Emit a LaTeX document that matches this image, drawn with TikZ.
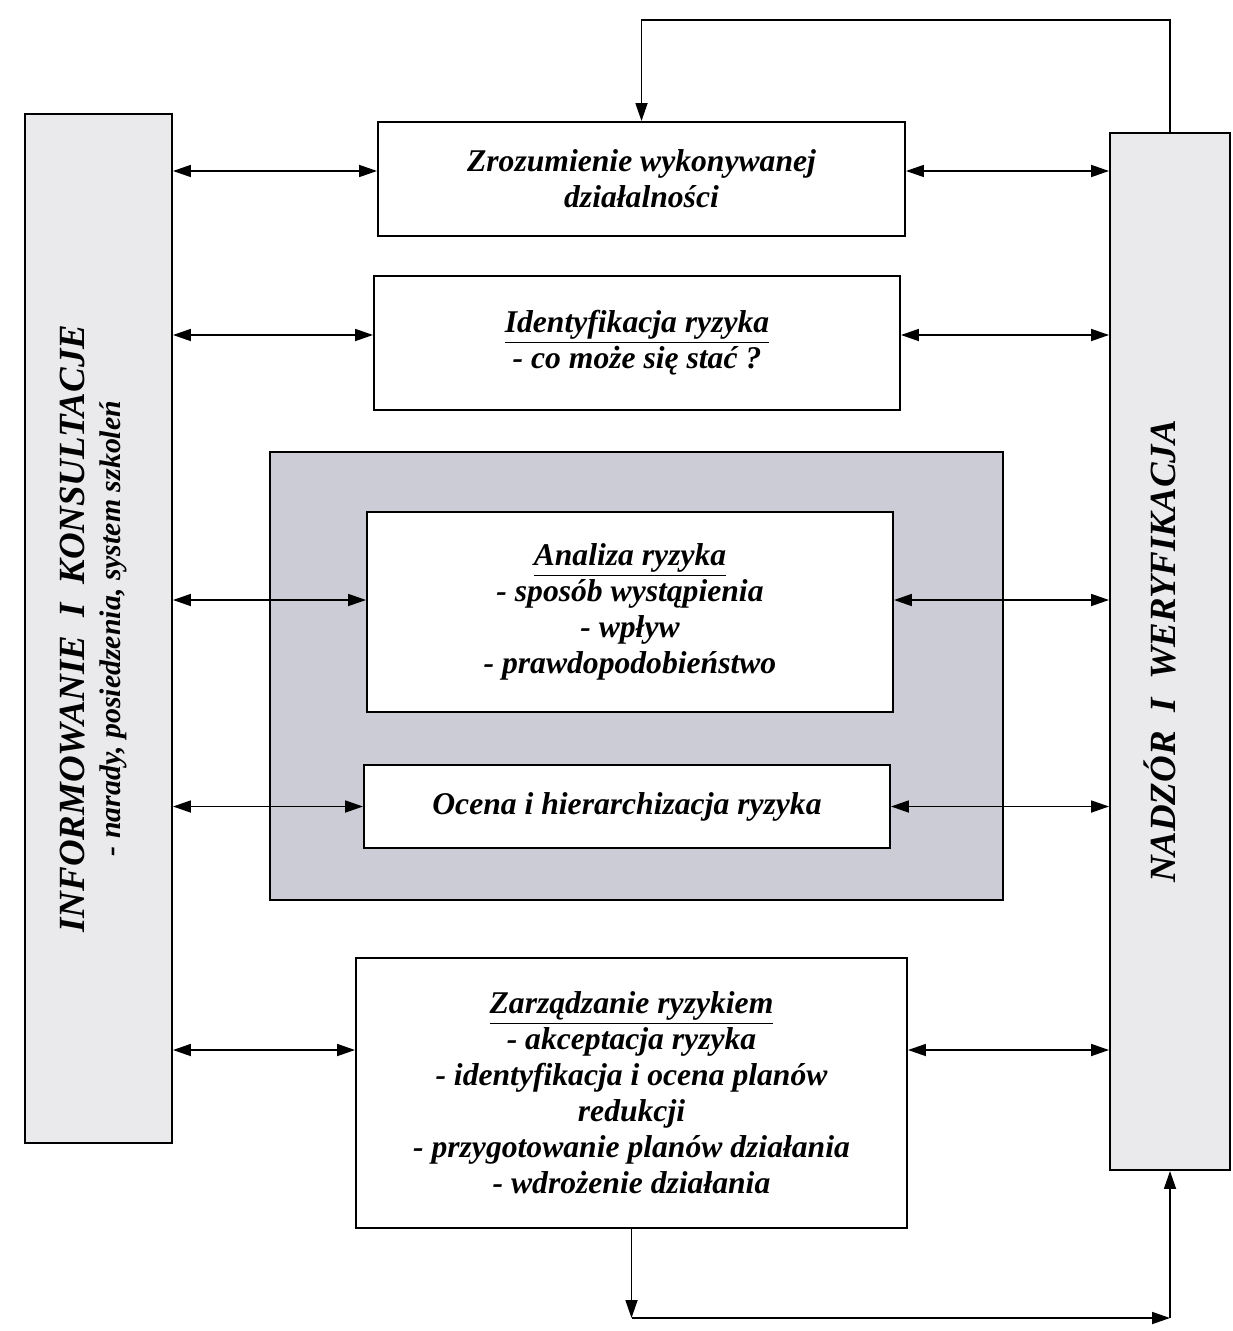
\documentclass[tikz,border=0pt]{standalone}
\usepackage{fontspec}
\setmainfont{Liberation Serif}
\usetikzlibrary{arrows.meta}
\definecolor{panelgray}{RGB}{204,204,214}
\definecolor{sidegray}{RGB}{234,234,236}

\begin{document}
\begin{tikzpicture}[
    box/.style={rectangle, draw, line width=1.1pt, fill=white, align=center, inner sep=2pt,
        font=\fontsize{18}{20.5}\selectfont\bfseries\itshape},
    side/.style={rectangle, draw, line width=1.1pt, fill=sidegray},
    sidetext/.style={rotate=90, align=center, font=\fontsize{21}{21}\selectfont\bfseries\itshape},
    arrow/.style={-{Triangle[length=0.36cm,width=0.24cm]}, line width=1pt},
    darrow/.style={{Triangle[length=0.36cm,width=0.24cm]}-{Triangle[length=0.36cm,width=0.24cm]}, line width=1pt}
]
    \useasboundingbox (0,0) rectangle (24.64,-26.62);

    \node[side, minimum width=2.94cm, minimum height=20.58cm] (info)   at (1.97,-12.57) {};
    \node[side, minimum width=2.40cm, minimum height=20.74cm] (nadzor) at (23.40,-13.03) {};
    \node[sidetext] (infotxt) at ([xshift=-1mm]info.center)
        {INFORMOWANIE\ \ I\ \ KONSULTACJE\\
         {\fontsize{17}{21}\selectfont - narady, posiedzenia, system szkoleń}};
    \node[sidetext] (nadzortxt) at ([xshift=-2mm]nadzor.center)
        {NADZÓR\ \ I\ \ WERYFIKACJA};

    \node[box, minimum width=10.54cm, minimum height=2.28cm] (zroz)  at (12.83,-3.58)
        {Zrozumienie wykonywanej\\działalności};
    \node[box, minimum width=10.52cm, minimum height=2.68cm] (ident) at (12.74,-6.86)
        {\underline{Identyfikacja ryzyka}\\- co może się stać ?};

    \node[rectangle, draw, line width=1.1pt, fill=panelgray,
          minimum width=14.66cm, minimum height=8.96cm] (panel) at (12.73,-13.52) {};
    \node[box, minimum width=10.52cm, minimum height=4.00cm] (analiza) at (12.60,-12.24)
        {\underline{Analiza ryzyka}\\- sposób wystąpienia\\- wpływ\\- prawdopodobieństwo};
    \node[box, minimum width=10.52cm, minimum height=1.66cm] (ocena) at (12.54,-16.13)
        {Ocena i hierarchizacja ryzyka};

    \node[box, minimum width=11.02cm, minimum height=5.40cm] (zarz) at (12.63,-21.86)
        {\underline{Zarządzanie ryzykiem}\\- akceptacja ryzyka\\- identyfikacja i ocena planów\\redukcji\\- przygotowanie planów działania\\- wdrożenie działania};

    % links to both side columns
    \foreach \n/\dy in {zroz/1.6mm, ident/1.6mm, analiza/2.4mm, ocena/0mm, zarz/8.6mm} {
        \coordinate (\n-l) at ([yshift=\dy]\n.west);
        \coordinate (\n-r) at ([yshift=\dy]\n.east);
        \draw[darrow] (info.east |- \n-l) -- (\n-l);
        \draw[darrow] (\n-r) -- (nadzor.west |- \n-r);
    }

    % feedback loops
    \coordinate (top) at (0,-0.40);
    \coordinate (bot) at (0,-26.36);
    \draw[arrow] (nadzor.north) -- (nadzor.north |- top) -| (zroz.north);
    \draw[arrow] (zarz.south) -- (zarz.south |- bot);
    \draw[arrow] (zarz.south |- bot) -- (nadzor.south |- bot);
    \draw[arrow] (nadzor.south |- bot) -- (nadzor.south);
\end{tikzpicture}
\end{document}
